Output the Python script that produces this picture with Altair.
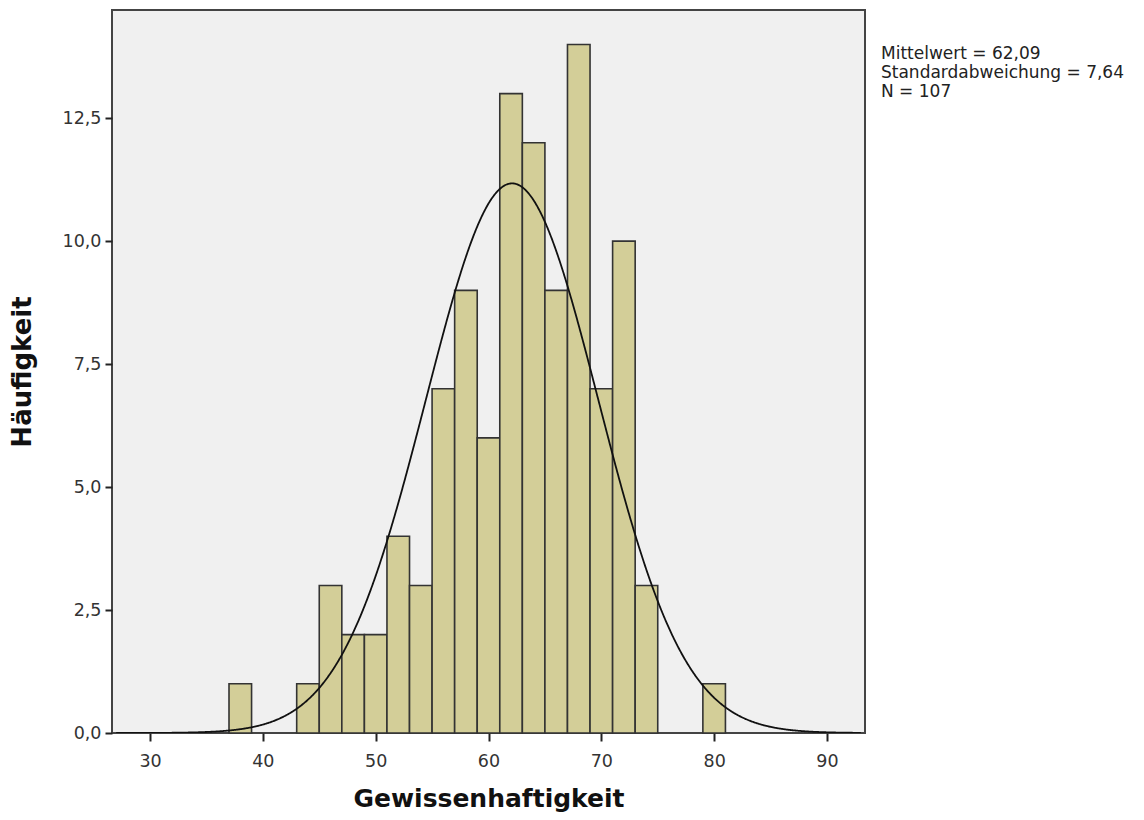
import altair as alt
import pandas as pd

# Histogram bins (width 2) and counts
bin_start = [37, 43, 45, 47, 49, 51, 53, 55, 57, 59, 61, 63, 65, 67, 69, 71, 73, 79]
counts = [1, 1, 3, 2, 2, 4, 3, 7, 9, 6, 13, 12, 9, 14, 7, 10, 3, 1]
bin_width = 2

mean = 62.09
sd = 7.64
n = 107

stats_lines = ["Mittelwert = 62,09", "Standardabweichung = 7,64", "N = 107"]

x_ticks = [30, 40, 50, 60, 70, 80, 90]
y_ticks = [0, 2.5, 5, 7.5, 10, 12.5]

hist = pd.DataFrame({
    "start": bin_start,
    "end": [s + bin_width for s in bin_start],
    "count": counts,
    "zero": [0] * len(counts),
})

FONT = "DejaVu Sans"
xs = alt.Scale(domain=[26.63, 93.37], nice=False, zero=False)
ys = alt.Scale(domain=[0, 14.7], nice=False)

bars = alt.Chart(hist).mark_rect(
    fill="#D3CE98", stroke="#333333", strokeWidth=1.6, opacity=1
).encode(
    x=alt.X("start:Q", scale=xs, axis=alt.Axis(
        values=x_ticks, title="Gewissenhaftigkeit", grid=False,
        tickSize=8, tickColor="#222", tickWidth=2, domain=False,
        labelFontSize=17.5, labelColor="#333", labelFont=FONT, labelPadding=11,
        titleFont=FONT, titleFontSize=25, titleFontWeight="bold", titleColor="#111",
        titlePadding=17)),
    x2="end:Q",
    y=alt.Y("count:Q", scale=ys, axis=alt.Axis(
        values=y_ticks, title="Häufigkeit", grid=False,
        tickSize=7, tickColor="#222", tickWidth=2, domain=False,
        labelExpr="replace(format(datum.value, '.1f'), '.', ',')",
        labelFontSize=17.5, labelColor="#333", labelFont=FONT, labelPadding=4,
        titleFont=FONT, titleFontSize=26, titleFontWeight="bold", titleColor="#111",
        titlePadding=27)),
    y2="zero:Q",
)

curve = alt.Chart(alt.sequence(27.0, 93.05, 0.05, as_="x")).transform_calculate(
    y=f"{n}*{bin_width}*exp(-0.5*pow((datum.x-{mean})/{sd},2))/({sd}*sqrt(2*PI))"
).mark_line(color="#111111", strokeWidth=1.8, clip=True).encode(
    x=alt.X("x:Q", scale=xs),
    y=alt.Y("y:Q", scale=ys),
)

stats = alt.Chart(pd.DataFrame({"t": ["\n".join(stats_lines)]})).mark_text(
    align="left", baseline="top", font=FONT, fontSize=17, color="#222",
    lineHeight=19, lineBreak="\n",
).encode(
    text="t:N",
    x=alt.value(769),
    y=alt.value(36),
)

chart = alt.layer(bars, curve, stats).properties(
    width=753, height=723,
    autosize=alt.AutoSizeParams(type="none"),
    padding={"left": 104, "top": 2, "right": 271, "bottom": 79},
).configure(background="white").configure_view(
    fill="#F0F0F0", stroke="#444444", strokeWidth=2
)

chart.save("out.html", embed_options={"renderer": "svg", "actions": False})
